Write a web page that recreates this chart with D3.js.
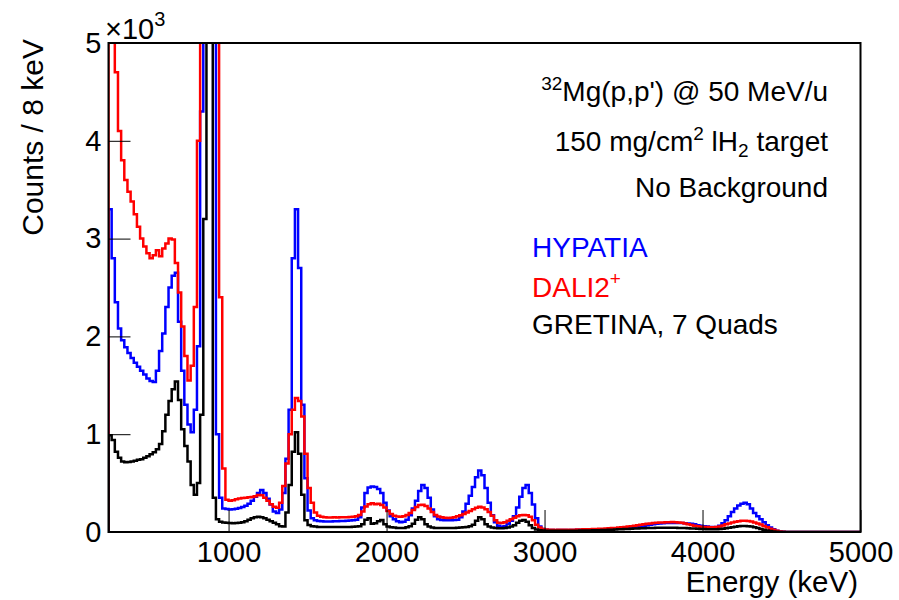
<html><head>
<script src="https://cdnjs.cloudflare.com/ajax/libs/d3/7.8.5/d3.min.js"></script>
<style>
body {
    margin: 0;
    background-color: #ffffff;
}
svg text {
    font-family: "Liberation Sans", Arial, Helvetica, sans-serif;
    fill: #000;
}
.axis line {
    stroke: #000;
    stroke-width: 1;
}
.axis path {
    display: none;
}
.axis text {
    font-size: 29px;
}
.hist {
    fill: none;
    stroke-width: 2.5;
    stroke-linejoin: miter;
}
</style>
</head>
<body>
<div id="chart"></div>

<script>
// Histogram binning: 20 keV bins from 240 keV to 5000 keV
const binLow = 240;
const binHigh = 5000;
const binWidth = 20;

const xTicks = [1000, 2000, 3000, 4000, 5000];
const yTicks = [0, 1000, 2000, 3000, 4000, 5000];

// Counts per bin (rows of 10 bins = 200 keV)
const hypatia = [
    3300, 2800, 2350, 2080, 1960, 1890, 1830, 1780, 1730, 1690,   // 240-440
    1650, 1610, 1570, 1545, 1535, 1650, 1850, 2030, 2300, 2500,   // 440-640
    2620, 2650, 2150, 1650, 1300, 1100, 1020, 1250, 1900, 4300,   // 640-840
    9000, 15000, 15000, 9000, 1000, 350, 240, 235, 230, 232,      // 840-1040
    238, 245, 255, 268, 290, 320, 360, 400, 430, 400,             // 1040-1240
    340, 280, 210, 195, 230, 400, 750, 1250, 2800, 3300,          // 1240-1440
    2700, 1300, 550, 220, 140, 120, 112, 110, 108, 108,           // 1440-1640
    108, 110, 110, 112, 112, 115, 118, 120, 125, 150,             // 1640-1840
    250, 400, 455, 465, 460, 440, 400, 300, 220, 160,             // 1840-2040
    130, 110, 100, 105, 125, 170, 240, 320, 420, 480,             // 2040-2240
    450, 350, 230, 160, 130, 122, 120, 120, 120, 122,             // 2240-2440
    125, 150, 210, 290, 370, 460, 560, 630, 580, 450,             // 2440-2640
    300, 170, 100, 65, 52, 60, 85, 115, 160, 250,                 // 2640-2840
    360, 450, 480, 400, 280, 140, 55, 30, 22, 20,                 // 2840-3040
    20, 19, 20, 21, 20, 19, 20, 21, 22, 21,                       // 3040-3240
    22, 23, 22, 24, 25, 26, 27, 28, 30, 32,                       // 3240-3440
    34, 36, 38, 40, 42, 45, 48, 52, 56, 62,                       // 3440-3640
    68, 74, 80, 84, 88, 90, 92, 93, 92, 92,                       // 3640-3840
    92, 91, 90, 88, 84, 78, 70, 64, 58, 55,                       // 3840-4040
    52, 50, 52, 65, 90, 120, 160, 205, 240, 270,                  // 4040-4240
    290, 300, 285, 240, 195, 160, 130, 100, 70, 45,               // 4240-4440
    28, 14, 6, 3, 1, 0, 0, 0, 0, 0,                               // 4440-4640
    0, 0, 0, 0, 0, 0, 0, 0, 0, 0,                                 // 4640-4840
    0, 0, 0, 0, 0, 0, 0, 0                                        // 4840-5000
];

const dali2 = [
    12000, 5200, 4700, 4100, 3800, 3600, 3480, 3380, 3250, 3120,
    3000, 2920, 2850, 2800, 2830, 2880, 2820, 2900, 2950, 3000,
    2990, 2750, 2450, 2100, 1800, 1550, 1700, 2300, 4000, 12000,
    18000, 18000, 18000, 18000, 9000, 2400, 650, 330, 320, 325,
    335, 342, 348, 350, 355, 358, 365, 378, 375, 350,
    320, 285, 258, 248, 300, 470, 700, 1000, 1250, 1370,
    1340, 1180, 800, 450, 300, 200, 165, 155, 150, 148,
    148, 150, 147, 150, 152, 150, 153, 155, 160, 175,
    210, 260, 285, 295, 285, 290, 275, 250, 215, 185,
    165, 158, 155, 160, 175, 195, 225, 255, 275, 278,
    265, 240, 205, 175, 158, 150, 145, 143, 145, 150,
    160, 172, 185, 200, 215, 232, 248, 258, 250, 232,
    205, 165, 120, 95, 92, 100, 115, 130, 145, 160,
    170, 175, 170, 155, 120, 75, 45, 30, 25, 22,
    22, 21, 22, 23, 22, 23, 24, 24, 25, 26,
    27, 28, 29, 30, 31, 33, 34, 36, 38, 40,
    42, 45, 48, 52, 56, 60, 65, 70, 75, 80,
    84, 88, 91, 94, 96, 98, 100, 100, 101, 100,
    98, 94, 88, 80, 72, 64, 58, 54, 51, 50,
    48, 48, 50, 56, 66, 78, 88, 96, 104, 110,
    114, 115, 113, 107, 98, 88, 76, 62, 48, 34,
    22, 12, 5, 2, 1, 0, 0, 0, 0, 0,
    0, 0, 0, 0, 0, 0, 0, 0, 0, 0,
    0, 0, 0, 0, 0, 0, 0, 0
];

const gretina = [
    990, 940, 820, 760, 720, 712, 715, 720, 728, 738,
    745, 758, 775, 795, 815, 845, 900, 1030, 1200, 1340,
    1460, 1540, 1350, 1050, 880, 720, 480, 380, 500, 1200,
    3200, 15000, 15000, 350, 130, 105, 98, 95, 92, 90,
    92, 95, 100, 110, 125, 140, 152, 155, 150, 140,
    125, 110, 95, 80, 58, 55, 200, 480, 820, 1020,
    800, 380, 120, 72, 60, 55, 52, 52, 50, 52,
    50, 52, 50, 51, 52, 50, 52, 53, 55, 60,
    80, 125, 140, 85, 90, 110, 122, 80, 55, 48,
    45, 42, 40, 42, 48, 60, 85, 125, 152, 130,
    80, 55, 45, 42, 40, 40, 42, 40, 41, 42,
    43, 45, 48, 52, 60, 75, 115, 152, 130, 80,
    55, 45, 40, 38, 38, 40, 45, 55, 70, 95,
    115, 122, 105, 70, 40, 25, 18, 15, 13, 12,
    12, 12, 12, 13, 12, 13, 13, 14, 14, 15,
    15, 16, 16, 17, 18, 19, 20, 21, 22, 24,
    25, 27, 28, 30, 31, 33, 35, 36, 38, 39,
    40, 41, 42, 43, 43, 44, 44, 44, 43, 43,
    42, 41, 40, 39, 37, 35, 33, 31, 30, 29,
    28, 28, 29, 31, 34, 38, 43, 49, 54, 58,
    61, 62, 60, 55, 48, 40, 31, 22, 15, 9,
    5, 3, 1, 1, 0, 0, 0, 0, 0, 0,
    0, 0, 0, 0, 0, 0, 0, 0, 0, 0,
    0, 0, 0, 0, 0, 0, 0, 0
];

const series = [
    {name: "HYPATIA", values: hypatia, color: "#0000ff"},
    {name: "DALI2", values: dali2, color: "#ff0000"},
    {name: "GRETINA, 7 Quads", values: gretina, color: "#000000"}
];

// Layout
const width = 899;
const height = 600;
const frame = {left: 108.5, right: 860.5, top: 43, bottom: 532};

const svg = d3.select("#chart")
    .append("svg")
    .attr("width", width)
    .attr("height", height);

const x = d3.scaleLinear()
    .domain([binLow, binHigh])
    .range([frame.left, frame.right]);

const y = d3.scaleLinear()
    .domain([0, 5000])
    .range([frame.bottom, frame.top]);

// clip histograms to the frame
svg.append("clipPath")
    .attr("id", "frameClip")
    .append("rect")
    .attr("x", frame.left)
    .attr("y", frame.top)
    .attr("width", frame.right - frame.left)
    .attr("height", frame.bottom - frame.top);

// Histograms as step lines, starting and ending at zero like ROOT does
const line = d3.line()
    .x(d => x(d.e))
    .y(d => y(d.v))
    .curve(d3.curveStepAfter);

const plot = svg.append("g").attr("clip-path", "url(#frameClip)");

series.forEach(s => {
    const pts = [{e: binLow, v: 0}];
    s.values.forEach((v, i) => pts.push({e: binLow + i * binWidth, v: v}));
    pts.push({e: binHigh, v: 0});
    plot.append("path")
        .datum(pts)
        .attr("class", "hist")
        .attr("d", line)
        .style("stroke", s.color);
});

// Axes (ticks pointing inward)
svg.append("g")
    .attr("class", "axis")
    .attr("transform", `translate(0,${frame.bottom})`)
    .call(d3.axisBottom(x)
        .tickValues(xTicks)
        .tickSizeInner(-22)
        .tickSizeOuter(0)
        .tickPadding(9)
        .tickFormat(d3.format("d")));

svg.append("g")
    .attr("class", "axis")
    .attr("transform", `translate(${frame.left},0)`)
    .call(d3.axisLeft(y)
        .tickValues(yTicks)
        .tickSizeInner(-22)
        .tickSizeOuter(0)
        .tickPadding(7)
        .tickFormat(d => d / 1000));

// Frame
svg.append("rect")
    .attr("x", frame.left)
    .attr("y", frame.top)
    .attr("width", frame.right - frame.left)
    .attr("height", frame.bottom - frame.top)
    .style("fill", "none")
    .style("stroke", "#000")
    .style("stroke-width", 2);

// x10^3 multiplier
const mult = svg.append("text")
    .attr("x", 105)
    .attr("y", 39)
    .style("font-size", "29px");
mult.append("tspan").text("\u00d710");
mult.append("tspan").attr("dy", -13).style("font-size", "20px").text("3");

// Axis titles
svg.append("text")
    .attr("x", 858)
    .attr("y", 592)
    .attr("text-anchor", "end")
    .style("font-size", "29.5px")
    .text("Energy (keV)");

svg.append("text")
    .attr("transform", "rotate(-90)")
    .attr("x", -39)
    .attr("y", 43)
    .attr("text-anchor", "end")
    .style("font-size", "30px")
    .text("Counts / 8 keV");

// Annotation block
const l1 = svg.append("text")
    .attr("x", 828).attr("y", 101)
    .attr("text-anchor", "end")
    .style("font-size", "28px");
l1.append("tspan").attr("dy", -11).style("font-size", "19px").text("32");
l1.append("tspan").attr("dy", 11).text("Mg(p,p') @ 50 MeV/u");

const l2 = svg.append("text")
    .attr("x", 828).attr("y", 151)
    .attr("text-anchor", "end")
    .style("font-size", "28px");
l2.append("tspan").text("150 mg/cm");
l2.append("tspan").attr("dy", -11).style("font-size", "19px").text("2");
l2.append("tspan").attr("dy", 11).text(" lH");
l2.append("tspan").attr("dy", 6).style("font-size", "19px").text("2");
l2.append("tspan").attr("dy", -6).text(" target");

svg.append("text")
    .attr("x", 828).attr("y", 197)
    .attr("text-anchor", "end")
    .style("font-size", "28px")
    .text("No Background");

// Legend
const legendY = [257, 297, 334];
series.forEach((s, i) => {
    const t = svg.append("text")
        .attr("x", 532)
        .attr("y", legendY[i])
        .style("font-size", "28px")
        .style("fill", s.color);
    t.append("tspan").text(s.name);
    if (s.name === "DALI2") {
        t.append("tspan").attr("dy", -12).style("font-size", "19px").text("+");
    }
});
</script>
</body></html>
